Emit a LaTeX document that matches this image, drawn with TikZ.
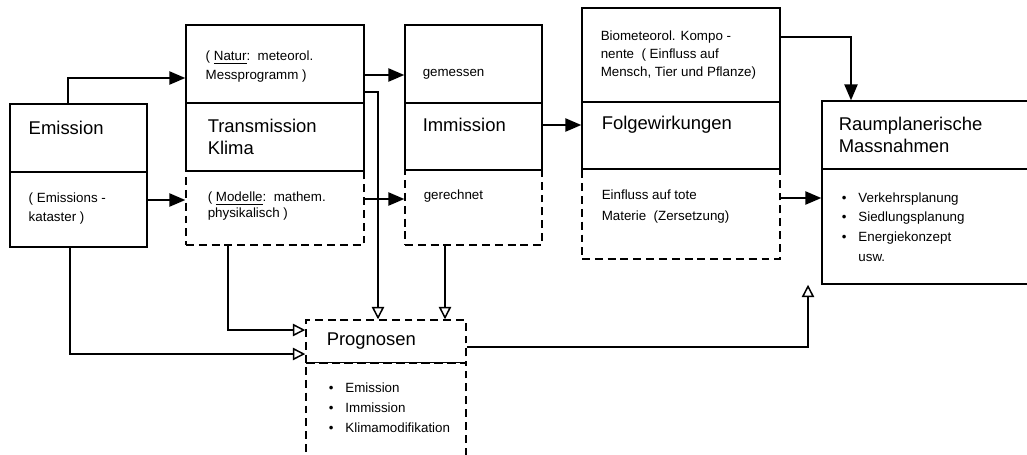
\documentclass[tikz,border=0pt]{standalone}
\usepackage{fontspec}
\setmainfont{Liberation Sans}
\usepackage{tikz}
\usetikzlibrary{arrows.meta,fit,positioning}

\newcommand{\pkt}{\makebox[1.25em][l]{\textbullet}}

\begin{document}
\begin{tikzpicture}[x=0.02cm,y=-0.02cm,line width=0.85pt,
  cell/.style={draw,inner sep=0pt,fit={#1}},
  dcell/.style={cell={#1},dash pattern=on 4.5pt off 2.8pt},
  titel/.style={anchor=west,inner sep=0pt,align=left,font=\fontsize{10.5}{12.5}\selectfont},
  klein/.style={anchor=west,inner sep=0pt,align=left,font=\fontsize{7.6}{10.8}\selectfont},
  voll/.style={-{Triangle[length=9pt,width=7.5pt]}},
  hohl/.style={-{Triangle[open,length=7pt,width=7pt]}}]
        \useasboundingbox (0,0) rectangle (1027,454);
        \clip (0,0) rectangle (1027,454);
        \node[cell={(10,104)(147,172)}] (emi-top) {};
        \node[cell={(10,172)(147,247)}] (emi-bot) {};
        \node[cell={(186,25)(364,103)}] (tr-top) {};
        \node[cell={(186,103)(364,171)}] (tr-mid) {};
        \node[dcell={(186,171)(364,245)}] (tr-bot) {};
        \node[cell={(405,25)(542,103)}] (imm-top) {};
        \node[cell={(405,103)(542,170)}] (imm-mid) {};
        \node[dcell={(405,170)(542,245)}] (imm-bot) {};
        \node[cell={(582,8)(780,102)}] (fol-top) {};
        \node[cell={(582,102)(780,169)}] (fol-mid) {};
        \node[dcell={(582,169)(780,259)}] (fol-bot) {};
        \node[cell={(822,101)(1045,169)}] (rp-top) {};
        \node[cell={(822,169)(1045,284)}] (rp-bot) {};
        \node[dcell={(306,320)(466,363)}] (prog-top) {};
        \node[dcell={(306,363)(466,475)}] (prog-bot) {};
        \draw (prog-bot.north west) -- (prog-bot.north east);
        \node[titel] (emi-t) at (28,128) {Emission};
        \node[klein] (emi-s) at (28,208.5) {( Emissions -\\kataster )};
        \node[klein] (tr-s1) at (205,66.5) {( \underline{Natur}:\ \ meteorol.\\Messprogramm )};
        \node[titel] (tr-t) at (207,137) {Transmission\\Klima};
        \node[klein,font=\fontsize{7.6}{8.8}\selectfont] (tr-s2) at (207,206) {( \underline{Modelle}:\ \ mathem.\\physikalisch )};
        \node[klein] (imm-s1) at (422,74) {gemessen};
        \node[titel] (imm-t) at (422,125) {Immission};
        \node[klein] (imm-s2) at (423,196) {gerechnet};
        \node[klein,font=\fontsize{7.6}{10.2}\selectfont] (fol-s1) at (600,55) {Biometeorol. Kompo -\\nente\ \ ( Einfluss auf\\Mensch, Tier und Pflanze)};
        \node[titel] (fol-t) at (601,125) {Folgewirkungen};
        \node[klein,font=\fontsize{7.6}{11.9}\selectfont] (fol-s2) at (601,206.5) {Einfluss auf tote\\Materie\ \ (Zersetzung)};
        \node[titel] (rp-t) at (838,135) {Raumplanerische\\Massnahmen};
        \node[klein,font=\fontsize{7.6}{11.2}\selectfont] (rp-s) at (841,227) {\pkt Verkehrsplanung\\\pkt Siedlungsplanung\\\pkt Energiekonzept\\\hspace*{1.25em}usw.};
        \node[titel] (prog-t) at (326,341) {Prognosen};
        \node[klein,font=\fontsize{7.6}{11.3}\selectfont] (prog-s) at (328,408) {\pkt Emission\\\pkt Immission\\\pkt Klimamodifikation};
        \draw[voll] (68,0 |- emi-top.north) |- (tr-top.west |- 0,78);
        \draw[voll] (emi-bot.east |- 0,200) -- (tr-bot.west |- 0,200);
        \draw[voll] (tr-top.east |- 0,75) -- (imm-top.west |- 0,75);
        \draw[voll] (tr-bot.east |- 0,199) -- (imm-bot.west |- 0,199);
        \draw[hohl] (tr-top.east |- 0,92) -| (prog-top.north -| 378,0);
        \draw[hohl] (228,0 |- tr-bot.south) |- (prog-top.west |- 0,330);
        \draw[hohl] (70,0 |- emi-bot.south) |- (prog-top.west |- 0,354);
        \draw[hohl] (445,0 |- imm-bot.south) -- (prog-top.north -| 445,0);
        \draw[voll] (imm-mid.east |- 0,125) -- (fol-mid.west |- 0,125);
        \draw[voll] (fol-top.east |- 0,37) -| (rp-top.north -| 851,0);
        \draw[voll] (fol-bot.east |- 0,198) -- (rp-bot.west |- 0,198);
        \draw[hohl] (prog-top.east |- 0,347) -| (rp-bot.south -| 808,0);
\end{tikzpicture}
\end{document}
